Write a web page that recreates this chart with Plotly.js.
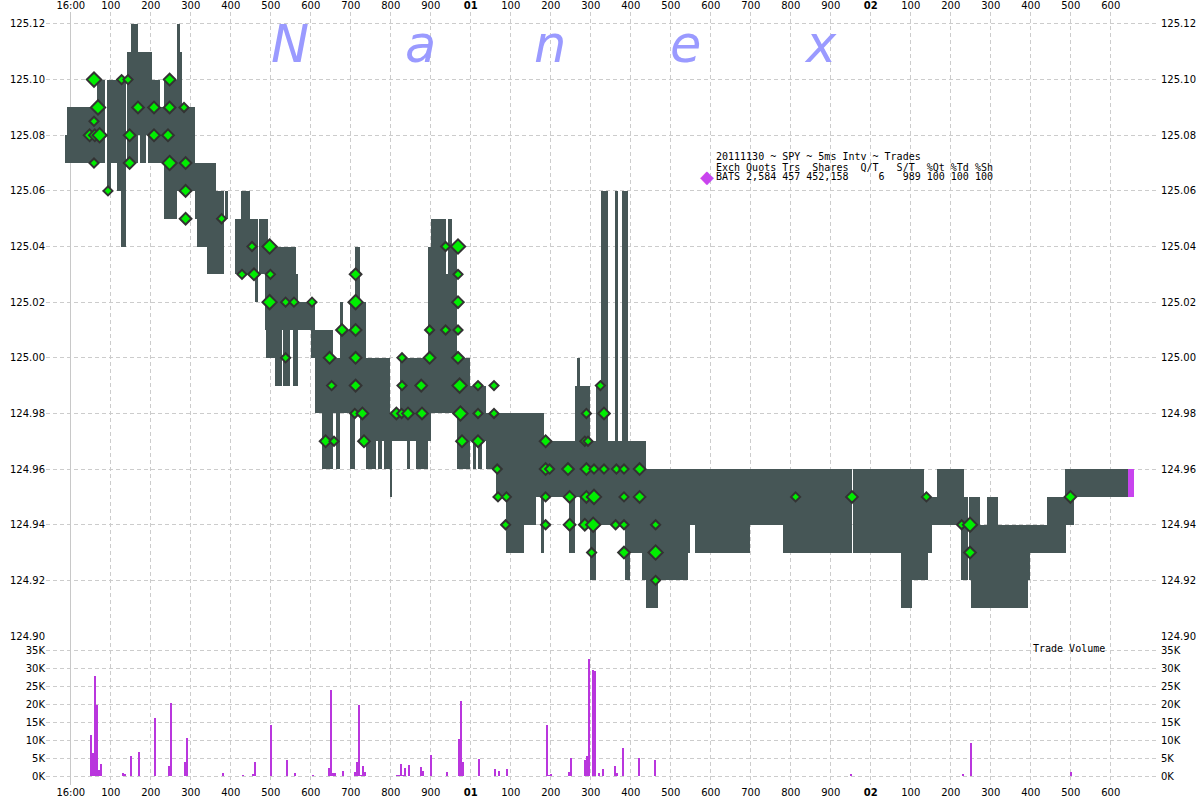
<!DOCTYPE html>
<html><head><meta charset="utf-8">
<script src="https://cdn.plot.ly/plotly-3.0.1.min.js"></script>
<style>html,body{margin:0;padding:0;background:#fff}#chart{width:1200px;height:800px}
.barlayer path{shape-rendering:crispEdges !important}</style>
</head><body><div id="chart"></div>
<script>
// ---- Quote band segments (ms after 16:00:00, bid, ask) ----
const qStart = [-15,-10,65,90,100,115,125,141,150,168,172,187,193,202,222,232,265,273,278,310,315,325,340,362,385,410,425,447,460,471,485,489,493,510,527,530,547,556,562,568,600,610,627,655,662,672,680,697,710,722,737,762,768,777,782,797,802,822,840,847,862,892,900,939,943,952,966,997,1005,1012,1018,1028,1037,1064,1089,1132,1162,1175,1182,1245,1260,1266,1272,1297,1314,1325,1343,1360,1368,1379,1385,1393,1397,1429,1437,1468,1542,1548,1560,1698,1780,1955,2075,2102,2132,2142,2152,2165,2225,2232,2245,2250,2272,2290,2317,2392,2397,2440,2485,2488,2508];
const qEnd   = [-10,65,85,100,115,125,137,150,168,172,187,193,202,222,232,265,273,278,310,315,325,340,362,382,393,425,447,460,468,485,489,493,510,527,530,547,556,562,568,600,610,627,655,662,672,680,697,710,722,737,762,768,777,782,797,802,822,840,847,862,892,900,939,943,952,966,997,1005,1012,1018,1028,1037,1064,1089,1132,1162,1175,1182,1245,1260,1266,1272,1297,1314,1325,1343,1360,1368,1379,1385,1393,1397,1429,1437,1468,1542,1548,1560,1698,1780,1952,2075,2102,2132,2142,2152,2165,2225,2232,2242,2250,2272,2290,2317,2392,2397,2440,2485,2488,2508,2642];
const qBid   = [125.07,125.07,125.07,125.06,125.07,125.06,125.04,125.07,125.07,125.08,125.07,125.08,125.07,125.07,125.07,125.05,125.06,125.06,125.06,125.05,125.04,125.04,125.03,125.03,125.05,125.03,125.03,125.03,125.02,125.03,125.01,125.00,125.00,124.99,125.01,124.99,125.01,124.99,124.99,125.01,125.00,124.98,124.96,124.98,124.96,124.98,124.98,124.96,124.98,124.97,124.96,124.97,124.96,124.97,124.96,124.95,124.97,124.97,124.96,124.97,124.96,124.97,124.98,124.98,124.98,124.98,124.96,124.97,124.96,124.97,124.96,124.97,124.96,124.95,124.93,124.94,124.95,124.93,124.95,124.93,124.95,124.95,124.94,124.92,124.94,124.94,124.94,124.94,124.94,124.94,124.92,124.92,124.93,124.92,124.91,124.92,124.93,124.94,124.93,124.94,124.93,124.93,124.91,124.92,124.92,124.93,124.94,124.94,124.92,124.92,124.92,124.91,124.91,124.91,124.91,124.92,124.93,124.93,124.93,124.94,124.95];
const qAsk   = [125.08,125.09,125.10,125.10,125.10,125.10,125.10,125.11,125.12,125.11,125.11,125.11,125.11,125.10,125.09,125.10,125.12,125.11,125.09,125.07,125.07,125.07,125.07,125.06,125.06,125.05,125.06,125.05,125.05,125.05,125.05,125.05,125.04,125.04,125.04,125.04,125.04,125.04,125.03,125.02,125.02,125.01,125.01,125.00,125.00,125.02,125.01,125.02,125.04,125.02,125.00,125.00,125.00,125.00,125.00,124.98,124.98,125.00,125.00,125.00,125.00,125.04,125.05,125.03,125.05,125.04,125.00,124.99,124.99,124.99,124.99,124.99,124.98,124.98,124.98,124.98,124.98,124.98,124.97,124.97,124.99,125.00,124.99,124.97,124.99,125.06,124.97,125.06,124.97,125.06,125.06,124.97,124.97,124.97,124.96,124.96,124.96,124.96,124.96,124.96,124.96,124.96,124.96,124.96,124.95,124.95,124.95,124.96,124.96,124.95,124.95,124.95,124.94,124.95,124.94,124.94,124.94,124.95,124.96,124.96,124.96];
// last (current) quote, drawn in purple
const lastStart = [2642], lastEnd = [2657], lastBid = [124.95], lastAsk = [124.96];

// ---- Trades (ms, price, estimated shares) ----
const trT  = [47,58,58,60,58,68,72,93,127,143,147,147,168,208,208,243,247,247,247,283,287,287,287,377,428,453,458,497,499,497,537,537,558,603,
  637,647,652,658,678,710,712,712,712,712,712,729,733,814,827,828,828,843,876,878,897,897,937,937,968,968,968,968,968,972,974,978,1018,1018,1018,1058,1058,1066,1068,1087,1089,
  1187,1187,1187,1187,1197,1243,1247,1247,1285,1293,1289,1289,1289,1285,1302,1306,1308,1308,1324,1333,1333,1362,1364,1383,1383,1383,1383,1422,1422,1462,1462,1462,
  1812,1953,2139,2227,2248,2248,2499];
const trPx = [125.08,125.10,125.085,125.08,125.07,125.09,125.08,125.06,125.10,125.10,125.08,125.07,125.09,125.09,125.08,125.08,125.10,125.09,125.07,125.09,125.07,125.06,125.05,125.05,125.03,125.04,125.03,125.04,125.03,125.02,125.02,125.00,125.02,125.02,
  124.97,125.00,124.99,124.97,125.01,124.98,125.03,125.02,125.01,125.00,124.99,124.98,124.97,124.98,124.98,125.00,124.99,124.98,124.99,124.98,125.01,125.00,125.04,125.01,125.04,125.03,125.02,125.01,125.00,124.99,124.98,124.97,124.99,124.98,124.97,124.99,124.98,124.96,124.95,124.94,124.95,
  124.97,124.96,124.95,124.94,124.96,124.96,124.95,124.94,124.97,124.97,124.98,124.96,124.95,124.94,124.93,124.94,124.96,124.95,124.99,124.98,124.96,124.94,124.96,124.96,124.95,124.94,124.93,124.96,124.95,124.94,124.93,124.92,
  124.95,124.95,124.95,124.94,124.94,124.93,124.95];
const trSh = [500,2000,100,500,100,2000,2000,100,100,100,500,500,500,500,500,500,500,500,2000,100,500,500,500,100,100,100,500,2000,100,2000,100,100,100,100,
  500,500,100,100,500,100,500,2000,500,500,500,500,500,500,100,100,100,500,500,500,100,500,100,100,2000,100,500,100,500,2000,2000,500,100,100,500,100,100,100,100,100,100,
  500,500,100,100,100,500,500,500,100,100,100,500,500,500,100,2000,100,2000,100,500,100,100,100,100,100,100,500,500,500,100,2000,100,
  100,500,100,100,2000,500,500];

// ---- Trade volume per 5 ms interval ----
const volT  = [50,55,60,65,70,75,95,130,135,145,150,170,210,245,250,285,290,380,430,455,460,500,540,560,605,645,650,655,660,680,710,715,720,725,730,735,815,820,825,830,835,845,875,880,900,940,970,975,980,1020,1060,1070,1090,1190,1195,1200,1245,1250,1285,1290,1295,1305,1310,1320,1330,1360,1365,1380,1420,1460,1810,1950,2140,2230,2250,2500];
const volSh = [11300,6300,27800,19600,1700,3300,100,800,550,100,5500,6600,16000,2750,20400,3900,10500,800,150,600,3900,14300,4400,850,300,2200,24000,850,850,1400,1100,3900,19600,300,2750,1100,200,300,3300,300,2200,3000,2500,1400,5800,1100,10200,20900,3900,4700,1900,1400,1900,14100,300,600,1100,5000,4400,5500,32500,29500,29200,850,1900,2750,850,7700,5000,4400,100,600,100,600,9100,1100];

// ---- Axis ticks ----
const xTickVals = [0,100,200,300,400,500,600,700,800,900,1000,1100,1200,1300,1400,1500,1600,1700,1800,1900,2000,2100,2200,2300,2400,2500,2600];
const xTickText = ['16:00','100','200','300','400','500','600','700','800','900','<b>01</b>','100','200','300','400','500','600','700','800','900','<b>02</b>','100','200','300','400','500','600'];
const pxTicks = [124.90,124.92,124.94,124.96,124.98,125.00,125.02,125.04,125.06,125.08,125.10,125.12];
const volTicks = [0,5000,10000,15000,20000,25000,30000,35000];
const volTickText = ['0K','5K','10K','15K','20K','25K','30K','35K'];

const infoLines = ['20111130 ~ SPY ~ 5ms Intv ~ Trades',
                   'Exch Quots Trs  Shares  Q/T   S/T  %Qt %Td %Sh',
                   'BATS 2,584 457 452,158     6   989 100 100 100'];
const watermark = ['N','a','n','e','x'];

// ---- build traces ----
const mid = (a,b)=>a.map((v,i)=>(v+b[i])/2);
const diff = (a,b)=>a.map((v,i)=>v-b[i]);
const bandColor = '#465656';
const traces = [];
traces.push({type:'bar', x:mid(qStart,qEnd), width:diff(qEnd,qStart), base:qBid, y:diff(qAsk,qBid),
  marker:{color:bandColor, line:{width:0}}, xaxis:'x', yaxis:'y', showlegend:false, hoverinfo:'skip'});
traces.push({type:'bar', x:mid(lastStart,lastEnd), width:diff(lastEnd,lastStart), base:lastBid, y:diff(lastAsk,lastBid),
  marker:{color:'#c844ee', line:{width:0}}, xaxis:'x', yaxis:'y', showlegend:false, hoverinfo:'skip'});
const sz = trSh.map(s => s>=2000 ? 11 : (s>=500 ? 9 : 7));
traces.push({type:'scatter', mode:'markers', x:trT, y:trPx, xaxis:'x', yaxis:'y',
  marker:{symbol:'diamond', size:sz, color:'#00ee00', opacity:1, line:{color:'#333333', width:2}}, showlegend:false, hoverinfo:'skip'});
traces.push({type:'bar', x:volT, y:volSh, width:volT.map(()=>4), xaxis:'x2', yaxis:'y2',
  marker:{color:'#b936dd', line:{width:0}}, showlegend:false, hoverinfo:'skip'});
// invisible traces to carry right-hand axes
traces.push({type:'scatter', x:[], y:[], xaxis:'x', yaxis:'y3', showlegend:false});
traces.push({type:'scatter', x:[], y:[], xaxis:'x2', yaxis:'y4', showlegend:false});

const L=46, R=1156, T=12, B=785;
const W=R-L, H=B-T;
const px2x = p => (p-L)/W;
const px2y = p => (B-p)/H;
const dom = px2y(636);

const gridc = '#cccccc';
const tickFont = {family:'DejaVu Sans, Verdana, sans-serif', size:10, color:'#000'};
const xBase = {range:[-62,2713], tickmode:'array', tickvals:xTickVals, ticktext:xTickText,
  showgrid:true, gridcolor:gridc, griddash:'4px,3px', gridwidth:1, zeroline:true, zerolinecolor:'#c8c8c8', zerolinewidth:1,
  showline:false, ticks:'', tickfont:tickFont, fixedrange:true};

const annotations = [];
const wmX = [290, 420, 550, 685, 820];
watermark.forEach((ch,i)=>annotations.push({xref:'paper', yref:'paper', x:px2x(wmX[i]), y:px2y(44), xanchor:'center', yanchor:'middle',
  text:ch, showarrow:false, font:{family:'DejaVu Sans, Verdana, sans-serif', size:51, style:'italic', color:'#9a9aff'}}));
const infoY = [156, 167, 177];
infoLines.forEach((ln,i)=>annotations.push({xref:'paper', yref:'paper', x:px2x(714), y:px2y(infoY[i]), xanchor:'left', yanchor:'middle',
  text:ln.replace(/ /g,'\u00a0'), showarrow:false, font:{family:'DejaVu Sans Mono, monospace', size:10, color:'#000'}}));
annotations.push({xref:'paper', yref:'paper', x:px2x(707), y:px2y(177), xanchor:'center', yanchor:'middle',
  text:'\u25c6', showarrow:false, font:{family:'DejaVu Sans', size:18, color:'#c844ee'}});
annotations.push({xref:'paper', yref:'paper', x:px2x(1031), y:px2y(648), xanchor:'left', yanchor:'middle',
  text:'Trade\u00a0Volume', showarrow:false, font:{family:'DejaVu Sans Mono, monospace', size:10, color:'#000'}});

const pxRange = [124.90, 125.1243];
const vRange = [-2500, 38900];
const layout = {
  width:1200, height:800, paper_bgcolor:'#fff', plot_bgcolor:'#fff',
  margin:{l:L, r:1200-R, t:T, b:800-B, pad:0},
  barmode:'overlay', showlegend:false, hovermode:false,
  xaxis: Object.assign({}, xBase, {anchor:'y', side:'top', domain:[0,1]}),
  xaxis2: Object.assign({}, xBase, {anchor:'y2', side:'bottom', domain:[0,1], matches:'x'}),
  yaxis: {domain:[dom,1], range:pxRange, tickmode:'array', tickvals:pxTicks, tickformat:'.2f', side:'left',
    showgrid:true, gridcolor:gridc, griddash:'4px,3px', zeroline:false, showline:false, ticks:'', tickfont:tickFont, fixedrange:true},
  yaxis3: {overlaying:'y', anchor:'x', range:pxRange, tickmode:'array', tickvals:pxTicks, tickformat:'.2f', side:'right',
    showgrid:false, zeroline:false, showline:false, ticks:'', tickfont:tickFont, fixedrange:true, ticklabelstandoff:4},
  yaxis2: {domain:[0,dom], range:vRange, tickmode:'array', tickvals:volTicks, ticktext:volTickText, side:'left',
    showgrid:true, gridcolor:gridc, griddash:'4px,3px', zeroline:false, showline:false, ticks:'', tickfont:tickFont, fixedrange:true},
  yaxis4: {overlaying:'y2', anchor:'x2', range:vRange, tickmode:'array', tickvals:volTicks, ticktext:volTickText, side:'right',
    showgrid:false, zeroline:false, showline:false, ticks:'', tickfont:tickFont, fixedrange:true, ticklabelstandoff:4},
  annotations: annotations
};
Plotly.newPlot('chart', traces, layout, {displayModeBar:false, staticPlot:true});
</script></body></html>
